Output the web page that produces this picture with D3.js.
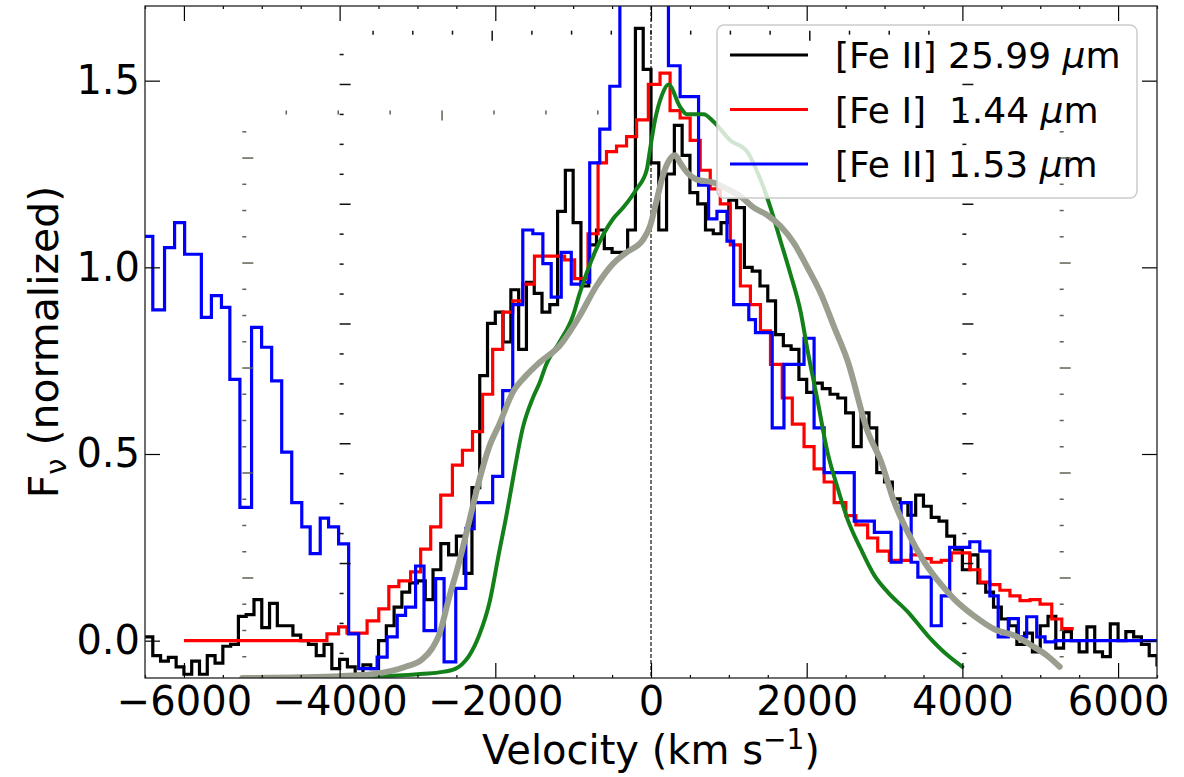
<!DOCTYPE html>
<html>
<head>
<meta charset="utf-8">
<script src="https://cdn.jsdelivr.net/npm/d3@7"></script>
<style>
  body { margin: 0; background: #fff; }
  svg { display: block; font-family: "DejaVu Sans", sans-serif; }
  .axis text { font-family: "DejaVu Sans", sans-serif; font-size: 40px; fill: #000; }
  .axis line { stroke: #000; stroke-width: 1.2; }
</style>
</head>
<body>
<svg id="chart" width="1184" height="777"></svg>
<script>
// ---- data ----
// [Fe II] 25.99 um (left bin edges, km/s)
const blackVel = [
  -6500, -6400, -6300, -6200, -6100, -6000, -5900, -5800, -5700, -5600,
  -5500, -5400, -5300, -5200, -5100, -5000, -4900, -4800, -4700, -4600,
  -4500, -4400, -4300, -4200, -4100, -4000, -3900, -3800, -3700, -3600,
  -3500, -3400, -3300, -3200, -3100, -3000, -2900, -2800, -2700, -2600,
  -2500, -2400, -2300, -2200, -2100, -2000, -1900, -1800, -1700, -1600,
  -1500, -1400, -1300, -1200, -1100, -1000, -900, -800, -700, -600,
  -500, -400, -300, -200, -100, 0, 100, 200, 300, 400,
  500, 600, 700, 800, 900, 1000, 1100, 1200, 1300, 1400,
  1500, 1600, 1700, 1800, 1900, 2000, 2100, 2200, 2300, 2400,
  2500, 2600, 2700, 2800, 2900, 3000, 3100, 3200, 3300, 3400,
  3500, 3600, 3700, 3800, 3900, 4000, 4100, 4200, 4300, 4400,
  4500, 4600, 4700, 4800, 4900, 5000, 5100, 5200, 5300, 5400,
  5500, 5600, 5700, 5800, 5900, 6000, 6100, 6200, 6300, 6400,
  6500, 6600
];
const blackFlux = [
  0.01, -0.04, -0.055, -0.045, -0.07, -0.09, -0.055, -0.09, -0.04, -0.06,
  -0.015, -0.01, 0.065, 0.07, 0.11, 0.035, 0.10, 0.04, 0.04, 0.015,
  0.0, -0.01, -0.04, -0.01, -0.075, -0.05, -0.07, -0.09, -0.065, -0.075,
  0.0, 0.04, 0.09, 0.13, 0.155, 0.16, 0.11, 0.19, 0.26, 0.23,
  0.28, 0.18, 0.41, 0.71, 0.85, 0.88, 0.80, 0.94, 0.78, 0.96,
  0.93, 0.88, 0.90, 1.15, 1.26, 1.12, 0.95, 1.06, 1.10, 1.05,
  1.04, 1.04, 1.10, 1.64, 1.53, 1.28, 1.10, 1.25, 1.38, 1.30,
  1.20, 1.17, 1.10, 1.09, 1.12, 1.18, 1.16, 1.00, 0.99, 0.95,
  0.91, 0.82, 0.79, 0.78, 0.70, 0.665, 0.69, 0.675, 0.66, 0.65,
  0.61, 0.52, 0.61, 0.57, 0.45, 0.425, 0.38, 0.37, 0.336, 0.39,
  0.36, 0.33, 0.32, 0.28, 0.245, 0.19, 0.23, 0.155, 0.13, 0.09,
  0.058, 0.04, -0.01, 0.02, -0.03, 0.04, 0.065, -0.02, 0.024, 0.0,
  -0.03, 0.037, -0.03, -0.043, 0.045, 0.0, 0.024, 0.01, -0.01, -0.04,
  -0.065, -0.065
];

// [Fe I] 1.44 um
const redVel = [
  -6000, -4163, -4013, -3905, -3776, -3647, -3497, -3368, -3239, -3088,
  -2959, -2830, -2701, -2551, -2422, -2293, -2164, -2034, -1905, -1776,
  -1647, -1497, -1368, -1239, -1110, -981, -809, -680, -572, -443,
  -314, -185, -34, 116, 245, 374, 503, 632, 761, 890,
  1019, 1148, 1277, 1406, 1535, 1686, 1815, 1966, 2095, 2224,
  2353, 2503, 2632, 2783, 2912, 3062, 3191, 3342, 3471, 3600,
  3729, 3858, 3987, 4095, 4224, 4353, 4482, 4611, 4740, 4869,
  4998, 5148, 5277, 5430
];
const redFlux = [
  0.0, 0.018, 0.037, 0.02, 0.02, 0.053, 0.085, 0.145, 0.16, 0.184,
  0.245, 0.305, 0.39, 0.47, 0.51, 0.56, 0.66, 0.78, 0.88, 0.91,
  0.955, 1.03, 1.03, 1.03, 1.02, 0.97, 1.09, 1.28, 1.31, 1.325,
  1.35, 1.395, 1.49, 1.52, 1.42, 1.40, 1.34, 1.26, 1.21, 1.17,
  1.06, 0.95, 0.90, 0.83, 0.74, 0.65, 0.58, 0.52, 0.46, 0.425,
  0.37, 0.335, 0.31, 0.275, 0.24, 0.215, 0.215, 0.23, 0.22, 0.21,
  0.215, 0.235, 0.235, 0.19, 0.157, 0.15, 0.135, 0.12, 0.107, 0.11,
  0.098, 0.058, 0.032, 0.032
];

// [Fe II] 1.53 um
const blueVel = [
  -6500, -6400, -6249, -6120, -5991, -5776, -5647, -5518, -5410, -5281,
  -5131, -5002, -4873, -4744, -4615, -4486, -4378, -4249, -4142, -4013,
  -3884, -3755, -3626, -3518, -3389, -3260, -3153, -3024, -2916, -2766,
  -2658, -2508, -2379, -2271, -2034, -1905, -1776, -1647, -1518, -1389,
  -1282, -1153, -1024, -895, -787, -658, -529, -400, -100, 224,
  374, 611, 740, 847, 976, 1062, 1256, 1342, 1557, 1708,
  1836, 1966, 2095, 2224, 2611, 2869, 3084, 3213, 3342, 3428,
  3600, 3729, 3837, 4095, 4224, 4353, 4460, 4590, 4719, 4826,
  4955, 5062, 5191, 6600
];
const blueFlux = [
  1.083, 0.886, 1.053, 1.12, 1.035, 0.866, 0.924, 0.893, 0.70, 0.357,
  0.839, 0.786, 0.696, 0.505, 0.37, 0.305, 0.233, 0.328, 0.305, 0.259,
  0.018, -0.075, -0.075, -0.044, 0.01, 0.068, 0.09, 0.20, 0.027, 0.166,
  -0.057, 0.14, 0.30, 0.37, 0.44, 0.67, 0.90, 1.10, 1.09, 1.01,
  0.92, 1.04, 0.955, 0.96, 1.28, 1.37, 1.485, 1.9, 1.9, 1.54,
  1.457, 1.22, 1.13, 1.15, 1.07, 0.90, 0.86, 0.825, 0.57, 0.74,
  0.74, 0.81, 0.57, 0.45, 0.32, 0.29, 0.21, 0.37, 0.21, 0.17,
  0.04, 0.12, 0.25, 0.265, 0.24, 0.12, 0.01, 0.059, 0.01, 0.064,
  0.01, -0.003, 0.0, 0.0
];

// model profile (green)
const greenVel = [
  -4000, -3600, -3000, -2723, -2508, -2422, -2335, -2206, -2077, -1948,
  -1862, -1776, -1647, -1518, -1432, -1346, -1174, -1003, -916, -701,
  -486, -357, -185, -56, -13, 52, 138, 224, 374, 460,
  568, 675, 804, 1019, 1234, 1406, 1535, 1665, 1794, 1923,
  2009, 2138, 2267, 2396, 2525, 2697, 2869, 3041, 3299, 3557,
  3815, 4000
];
const greenFlux = [
  -0.10, -0.097, -0.09, -0.085, -0.075, -0.062, -0.04, 0.015, 0.10, 0.24,
  0.33, 0.43, 0.57, 0.65, 0.69, 0.74, 0.80, 0.87, 0.93, 1.05,
  1.13, 1.16, 1.21, 1.26, 1.315, 1.395, 1.46, 1.49, 1.43, 1.41,
  1.41, 1.41, 1.39, 1.34, 1.31, 1.235, 1.16, 1.07, 0.98, 0.88,
  0.78, 0.645, 0.505, 0.41, 0.325, 0.245, 0.175, 0.13, 0.077, 0.013,
  -0.04, -0.07
];

// model profile (grey)
const grayVel = [
  -5250, -4500, -4000, -3583, -3153, -2938, -2809, -2723, -2594, -2465,
  -2335, -2206, -2077, -1948, -1776, -1604, -1432, -1174, -916, -701,
  -486, -314, -99, -13, 73, 159, 245, 310, 374, 460,
  589, 804, 976, 1148, 1320, 1492, 1665, 1836, 2009, 2181,
  2353, 2525, 2783, 2955, 3127, 3299, 3514, 3729, 3901, 4159,
  4417, 4675, 4890, 5106, 5250
];
const grayFlux = [
  -0.10, -0.098, -0.095, -0.09, -0.07, -0.05, -0.02, 0.015, 0.115, 0.21,
  0.32, 0.43, 0.52, 0.58, 0.665, 0.71, 0.745, 0.79, 0.87, 0.95,
  1.01, 1.04, 1.075, 1.11, 1.18, 1.25, 1.29, 1.30, 1.28, 1.255,
  1.235, 1.227, 1.21, 1.19, 1.16, 1.14, 1.11, 1.065, 1.0, 0.93,
  0.84, 0.75, 0.56, 0.48, 0.37, 0.29, 0.21, 0.15, 0.11, 0.065,
  0.03, 0.013, -0.013, -0.043, -0.07
];

const xMajorTicks = [-6000, -4000, -2000, 0, 2000, 4000, 6000];
const xMinorTicks = [-6500, -5500, -5000, -4500, -3500, -3000, -2500, -1500, -1000, -500,
                     500, 1000, 1500, 2500, 3000, 3500, 4500, 5000, 5500, 6500];
const yMajorTicks = [0.0, 0.5, 1.0, 1.5];

const legendLabels = [
  { name: "[Fe II]", value: "25.99", color: "#000000" },
  { name: "[Fe I] ", value: "1.44", color: "#ff0000" },
  { name: "[Fe II]", value: "1.53", color: "#0000ff" }
];

// ---- layout ----
const margin = { top: 6, right: 27, bottom: 99, left: 145 },
      width = 1184 - margin.left - margin.right,
      height = 777 - margin.top - margin.bottom;

const svg = d3.select("#chart");
const plot = svg.append("g").attr("transform", `translate(${margin.left},${margin.top})`);

const x = d3.scaleLinear().domain([-6500, 6500]).range([0, width]);
const y = d3.scaleLinear().domain([-0.1, 1.7]).range([height, 0]);

svg.append("defs").append("clipPath").attr("id", "clip")
  .append("rect").attr("width", width).attr("height", height);

const series = plot.append("g").attr("clip-path", "url(#clip)");

function zip(vs, fs) { return vs.map((v, i) => [v, fs[i]]); }

const stepLine = d3.line().x(d => x(d[0])).y(d => y(d[1])).curve(d3.curveStepAfter);
const smoothLine = d3.line().x(d => x(d[0])).y(d => y(d[1])).curve(d3.curveMonotoneX);

// zero-velocity marker
series.append("line")
  .attr("x1", x(0)).attr("x2", x(0)).attr("y1", 0).attr("y2", height)
  .attr("stroke", "#333").attr("stroke-width", 1.4).attr("stroke-dasharray", "4,2");

[[blackVel, blackFlux, "#000000"], [redVel, redFlux, "#ff0000"], [blueVel, blueFlux, "#0000ff"]]
  .forEach(([vs, fs, c]) => {
    series.append("path")
      .datum(zip(vs, fs))
      .attr("fill", "none")
      .attr("stroke", c)
      .attr("stroke-width", 3.2)
      .attr("stroke-linejoin", "miter")
      .attr("d", stepLine);
  });

series.append("path")
  .datum(zip(greenVel, greenFlux))
  .attr("fill", "none").attr("stroke", "#14801a").attr("stroke-width", 4)
  .attr("stroke-linecap", "round")
  .attr("d", smoothLine);

series.append("path")
  .datum(zip(grayVel, grayFlux))
  .attr("fill", "none").attr("stroke", "#999e8f").attr("stroke-width", 6)
  .attr("stroke-linecap", "round")
  .attr("d", smoothLine);

// ---- axes (ticks pointing inward on all four sides) ----
plot.append("g").attr("class", "axis").attr("transform", `translate(0,${height})`)
  .call(d3.axisBottom(x).tickValues(xMajorTicks).tickSize(-15).tickPadding(9)
    .tickFormat(d => d3.format("d")(d).replace("-", "\u2212")));
plot.append("g").attr("class", "axis").attr("transform", `translate(0,${height})`)
  .call(d3.axisBottom(x).tickValues(xMinorTicks).tickSize(-3).tickFormat(""));
plot.append("g").attr("class", "axis")
  .call(d3.axisTop(x).tickValues(xMajorTicks).tickSize(-15).tickFormat(""));
plot.append("g").attr("class", "axis")
  .call(d3.axisTop(x).tickValues(xMinorTicks).tickSize(-3).tickFormat(""));
plot.append("g").attr("class", "axis")
  .call(d3.axisLeft(y).tickValues(yMajorTicks).tickSize(-15).tickPadding(5).tickFormat(d3.format(".1f")));
plot.append("g").attr("class", "axis").attr("transform", `translate(${width},0)`)
  .call(d3.axisRight(y).tickValues(yMajorTicks).tickSize(-15).tickFormat(""));
plot.selectAll(".axis .domain").remove();

plot.append("rect")
  .attr("width", width).attr("height", height)
  .attr("fill", "none").attr("stroke", "#222").attr("stroke-width", 1.3);

// ---- legend ----
const legend = plot.append("g").attr("transform", `translate(${717 - margin.left},${25 - margin.top})`);
legend.append("rect")
  .attr("width", 420).attr("height", 173).attr("rx", 7)
  .attr("fill", "#fff").attr("fill-opacity", 0.8)
  .attr("stroke", "#cccccc").attr("stroke-width", 1.5);
legendLabels.forEach((d, i) => {
  const cy = 30 + i * 54.5;
  legend.append("line")
    .attr("x1", 13).attr("x2", 91).attr("y1", cy).attr("y2", cy)
    .attr("stroke", d.color).attr("stroke-width", 3.2);
  const t = legend.append("text")
    .attr("x", 118).attr("y", cy + 13)
    .style("font-size", "36px").style("white-space", "pre");
  t.append("tspan").text(d.name + " " + d.value + " ");
  t.append("tspan").style("font-style", "italic").text("\u03bc");
  t.append("tspan").text("m");
});

// ---- stray tick marks from the overlapping panels ----
function ghostColumn(v, start, step, n, color) {
  const vals = d3.range(n).map(i => start + i * step);
  plot.append("g").attr("transform", `translate(${x(v)},0)`)
    .selectAll("line").data(vals).join("line")
    .attr("x1", 0).attr("x2", (d, i) => (i % 4 === 3 ? 11 : 4))
    .attr("y1", d => y(d)).attr("y2", d => y(d))
    .attr("stroke", color).attr("stroke-width", 1.5);
}
function ghostRow(f, start, step, kFrom, kTo, longEvery, color) {
  const vals = d3.range(kFrom, kTo + 1).map(k => ({ v: start + k * step, k }));
  plot.append("g").attr("transform", `translate(0,${y(f)})`)
    .selectAll("line").data(vals).join("line")
    .attr("x1", d => x(d.v)).attr("x2", d => x(d.v))
    .attr("y1", 0).attr("y2", d => (d.k % longEvery === 0 ? 10 : 4))
    .attr("stroke", color).attr("stroke-width", 1.5);
}
ghostColumn(-4000, -0.034, 0.0802, 21, "#111");
ghostColumn(4000, -0.034, 0.0802, 21, "#111");
ghostColumn(-5250, -0.043, 0.0703, 21, "#5d6352");
ghostColumn(5250, -0.043, 0.0703, 21, "#5d6352");
ghostRow(1.634, -2040, 510, -3, 11, 8, "#111");
ghostRow(1.42, -2684, 667, -3, 3, 7, "#5d6352");

// ---- axis labels ----
svg.append("text")
  .attr("x", margin.left + x(0)).attr("y", 764)
  .attr("text-anchor", "middle").style("font-size", "40px")
  .call(t => {
    t.append("tspan").text("Velocity (km s");
    t.append("tspan").attr("dy", -15).style("font-size", "28px").text("\u22121");
    t.append("tspan").attr("dy", 15).text(")");
  });

svg.append("text")
  .attr("transform", `translate(58,${margin.top + y(0.8)}) rotate(-90)`)
  .attr("text-anchor", "middle").style("font-size", "41px")
  .call(t => {
    t.append("tspan").text("F");
    t.append("tspan").attr("dy", 8).style("font-size", "29px").text("\u03bd");
    t.append("tspan").attr("dy", -8).text(" (normalized)");
  });
</script>
</body>
</html>
